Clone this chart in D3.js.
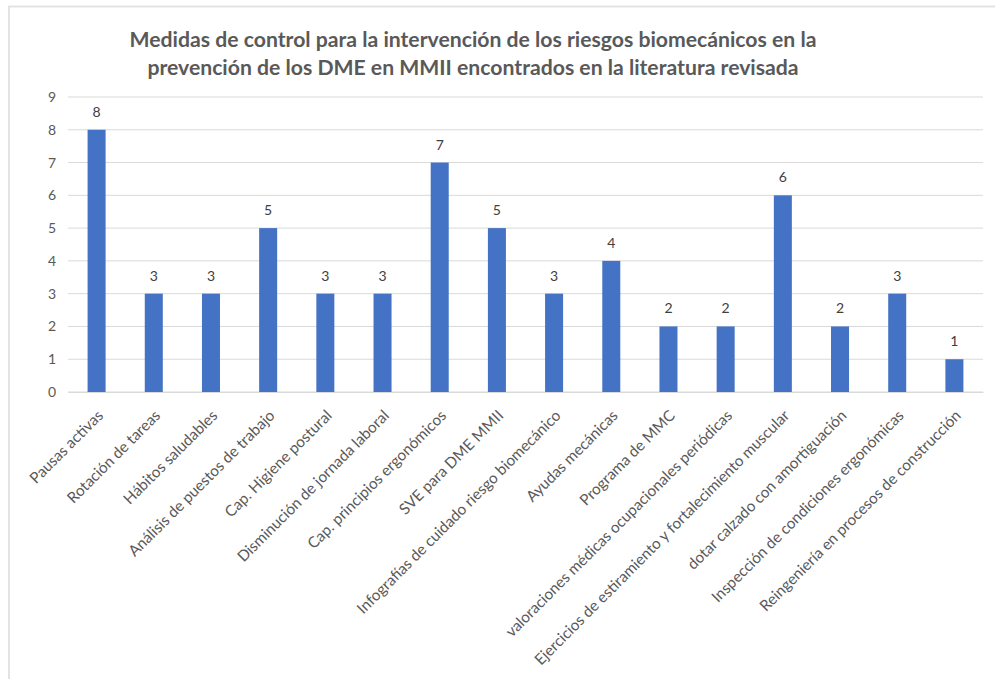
<!DOCTYPE html>
<html>
<head>
<meta charset="utf-8">
<script src="https://cdn.jsdelivr.net/npm/d3@7"></script>
<style>
  html, body { margin: 0; padding: 0; background: #fff; }
  svg { display: block; font-family: Lato, "Open Sans", sans-serif; }
  svg text { font-family: Lato, "Open Sans", sans-serif; }
</style>
</head>
<body>
<svg id="chart" width="995" height="679"></svg>
<script>
// data
const categories = [
  'Pausas activas',
  'Rotación de tareas',
  'Hábitos saludables',
  'Análisis de puestos de trabajo',
  'Cap. Higiene postural',
  'Disminución de jornada laboral',
  'Cap. principios ergonómicos',
  'SVE para DME MMII',
  'Infografías de cuidado riesgo biomecánico',
  'Ayudas mecánicas',
  'Programa de MMC',
  'valoraciones médicas ocupacionales periódicas',
  'Ejercicios de estiramiento y fortalecimiento muscular',
  'dotar calzado con amortiguación',
  'Inspección de condiciones ergonómicas',
  'Reingeniería en procesos de construcción'
];
const values = [8, 3, 3, 5, 3, 3, 7, 5, 3, 4, 2, 2, 6, 2, 3, 1];
const yTicks = [0, 1, 2, 3, 4, 5, 6, 7, 8, 9];
const titleLines = [
  'Medidas de control para la intervención de los riesgos biomecánicos en la',
  'prevención de los DME en MMII encontrados en la literatura revisada'
];

const svg = d3.select('#chart');
const margin = { top: 97, right: 12, bottom: 287, left: 68 };
const width  = +svg.attr('width')  - margin.left - margin.right;
const height = +svg.attr('height') - margin.top  - margin.bottom;

// chart area frame (light border on top and left, like the cropped Excel box)
svg.append('rect')
  .attr('x', 9).attr('y', 6.5)
  .attr('width', 1000).attr('height', 700)
  .attr('fill', '#fff')
  .attr('stroke', '#e3e3e3')
  .attr('stroke-width', 2);

const g = svg.append('g')
  .attr('transform', `translate(${margin.left},${margin.top})`);

const x = d3.scaleBand().domain(categories).range([0, width]).padding(0);
const y = d3.scaleLinear().domain([0, 9]).range([height, 0]);

// gridlines
g.append('g')
  .attr('class', 'grid')
  .selectAll('line')
  .data(yTicks)
  .join('line')
  .attr('x1', 0).attr('x2', width)
  .attr('y1', d => y(d)).attr('y2', d => y(d))
  .attr('stroke', '#d9d9d9')
  .attr('stroke-width', 1);

// y axis labels
const yAxis = d3.axisLeft(y).tickValues(yTicks).tickSize(0).tickPadding(12);
g.append('g')
  .attr('class', 'y-axis')
  .call(yAxis)
  .attr('font-family', null)
  .call(s => s.select('.domain').remove())
  .selectAll('text')
  .attr('fill', '#595959')
  .style('font-size', '14px');

// bars
const barW = x.bandwidth() * 0.315;
g.append('g')
  .attr('class', 'bars')
  .selectAll('rect')
  .data(values)
  .join('rect')
  .attr('x', (d, i) => x(categories[i]) + (x.bandwidth() - barW) / 2)
  .attr('y', d => y(d))
  .attr('width', barW)
  .attr('height', d => height - y(d))
  .attr('fill', '#4472c4');

// value labels
g.append('g')
  .attr('class', 'labels')
  .selectAll('text')
  .data(values)
  .join('text')
  .attr('x', (d, i) => x(categories[i]) + x.bandwidth() / 2)
  .attr('y', d => y(d) - 13)
  .attr('text-anchor', 'middle')
  .attr('fill', '#404040')
  .style('font-size', '14px')
  .text(d => d);

// x axis (category labels rotated -45)
const xAxis = d3.axisBottom(x).tickSize(0).tickPadding(0);
const xg = g.append('g')
  .attr('class', 'x-axis')
  .attr('transform', `translate(0,${height})`)
  .call(xAxis)
  .attr('font-family', null);
xg.select('.domain').attr('stroke', '#d9d9d9');
xg.selectAll('.tick text')
  .attr('fill', '#595959')
  .style('font-size', '15.3px')
  .attr('text-anchor', 'end')
  .attr('dy', 0)
  .attr('y', 0)
  .attr('transform', 'translate(7.5,24.5) rotate(-45)');

// title
svg.append('g')
  .attr('class', 'title')
  .selectAll('text')
  .data(titleLines)
  .join('text')
  .attr('x', 473)
  .attr('y', (d, i) => 47 + i * 28)
  .attr('text-anchor', 'middle')
  .attr('fill', '#595959')
  .style('font-size', '21.2px')
  .style('font-weight', 700)
  .text(d => d);
</script>
</body>
</html>
